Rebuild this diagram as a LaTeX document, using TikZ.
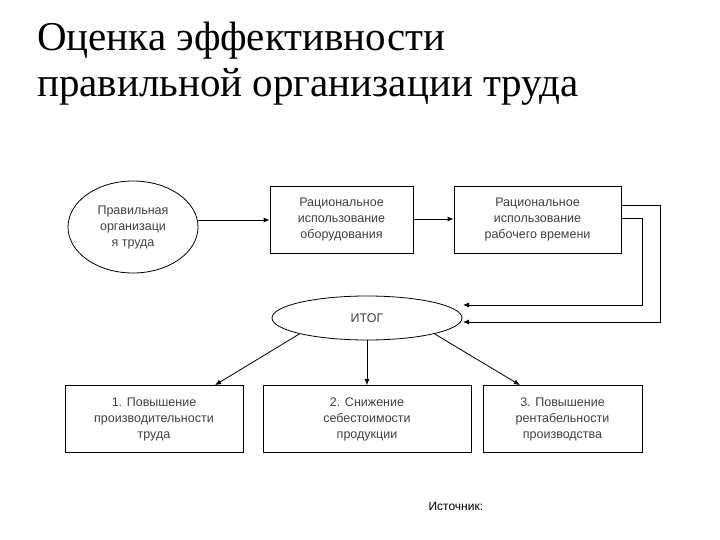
\documentclass[tikz,border=0pt]{standalone}
\usepackage{fontspec}
\setmainfont{Liberation Serif}
\newfontfamily\boxfont{Liberation Sans}
\usetikzlibrary{arrows.meta, positioning, calc, shapes.geometric}

\begin{document}
\begin{tikzpicture}[
    x=1pt, y=-1pt,
    blk/.style={rectangle, draw, thick, minimum height=67pt, align=center, font=\boxfont\fontsize{12.5}{16}\selectfont, text=black!75},
    oval/.style={ellipse, draw, thick, align=center, font=\boxfont\fontsize{12.5}{16}\selectfont, text=black!75, inner sep=0pt},
    arrow/.style={-{Latex[length=6pt, width=5pt]}, thick}
]
    \useasboundingbox (0,0) rectangle (720,540);

    % Title
    \node[anchor=north west, align=left, font=\fontsize{41}{46}\selectfont, inner sep=0pt] (title) at (37,22)
        {Оценка эффективности\\правильной организации труда};

    % --- Top row ---
    \node[oval, minimum width=130pt, minimum height=92pt] (org) at (133,227) {Правильная\\организаци\\я труда};
    \node[blk, minimum width=143pt] (equip) at (341.5,219.5) {Рациональное\\использование\\оборудования};
    \node[blk, minimum width=167pt] (time) at (537.5,219.5) {Рациональное\\использование\\рабочего времени};

    \draw [arrow] (org.east |- 0,220) -- (equip.west |- 0,220);
    \draw [arrow] (equip.east |- 0,219) -- (time.west |- 0,219);

    % --- Result ---
    \node[oval, minimum width=190pt, minimum height=44pt] (res) at (367,318) {ИТОГ};

    \coordinate (outer) at (660,205);
    \coordinate (inner) at (642,218);
    \draw [arrow] (time.east |- outer) -- (outer) |- (463,322);
    \draw [arrow] (time.east |- inner) -- (inner) |- (463,305);

    % --- Bottom row ---
    \node[blk, minimum width=178pt] (prod) at (154,419) {1. Повышение\\производительности\\труда};
    \node[blk, minimum width=208pt] (cost) at (367,419) {2. Снижение\\себестоимости\\продукции};
    \node[blk, minimum width=159pt] (prof) at (562.5,419) {3. Повышение\\рентабельности\\производства};

    \draw [arrow] (res.south west) -- (prod.north -| 215,0);
    \draw [arrow] (res.south) -- (cost.north);
    \draw [arrow] (res.south east) -- (prof.north -| 520,0);

    \node[anchor=west, font=\boxfont\fontsize{12}{14}\selectfont] (src) at (425,506) {Источник:};
\end{tikzpicture}
\end{document}
